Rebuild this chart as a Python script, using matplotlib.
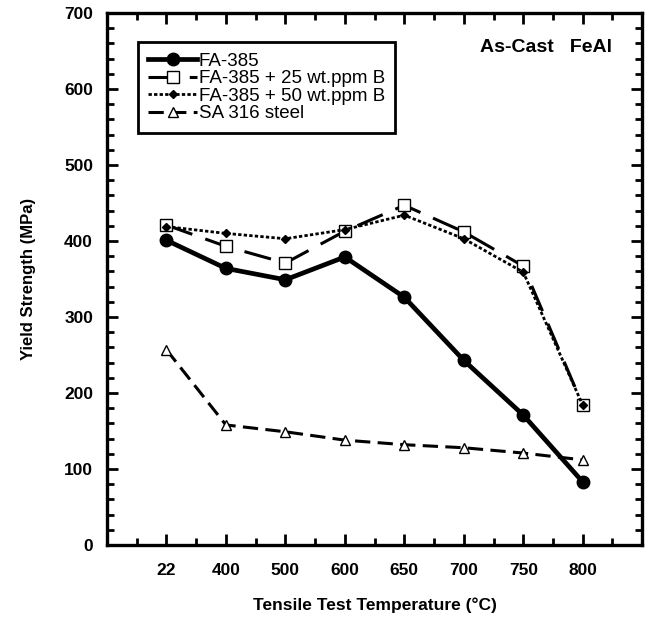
import matplotlib.pyplot as plt
from matplotlib.ticker import MultipleLocator, FixedLocator

temps = ["22", "400", "500", "600", "650", "700", "750", "800"]
fa385 = [401, 364, 349, 379, 326, 243, 171, 83]
fa385_25b = [421, 393, 371, 413, 447, 412, 367, 184]
fa385_50b = [419, 410, 403, 415, 434, 403, 359, 184]
sa316 = [257, 158, 149, 138, 132, 128, 121, 112]

plt.rcParams['font.family'] = ['Liberation Sans', 'DejaVu Sans']

fig = plt.figure(figsize=(6.52, 6.19), dpi=100)
ax = fig.add_axes([0.164, 0.1195, 0.821, 0.8595])

x = list(range(len(temps)))

ax.plot(x, fa385, color='black', lw=3.4, marker='o', ms=9,
        label='FA-385', zorder=4)
ax.plot(x, fa385_25b, color='black', lw=2.2, marker='s', ms=9,
        mfc='white', mec='black', mew=1.0, dashes=(9, 4.5),
        label='FA-385 + 25 wt.ppm B', zorder=3)
ax.plot(x, fa385_50b, color='black', lw=2.0, marker='D', ms=4.5,
        dashes=(1.2, 0.8), label='FA-385 + 50 wt.ppm B', zorder=5)
ax.plot(x, sa316, color='black', lw=2.2, marker='^', ms=7,
        mfc='white', mec='black', mew=1.0, dashes=(5, 2.4),
        label='SA 316 steel', zorder=3)

ax.set_xlim(-1, 8)
ax.set_ylim(0, 700)

ax.xaxis.set_major_locator(FixedLocator(x))
ax.xaxis.set_minor_locator(FixedLocator([i - 0.5 for i in range(len(temps) + 1)]))
ax.set_xticklabels(temps)
ax.yaxis.set_major_locator(MultipleLocator(100))
ax.yaxis.set_minor_locator(MultipleLocator(20))

for s in ax.spines.values():
    s.set_linewidth(2.4)

ax.tick_params(which='both', direction='in', top=True, right=True,
               width=2.0, labelsize=12.5, colors='black')
ax.tick_params(which='major', length=8)
ax.tick_params(which='minor', length=5)
ax.tick_params(axis='x', which='major', pad=13)
ax.tick_params(axis='y', which='major', pad=10)
for t in ax.get_xticklabels() + ax.get_yticklabels():
    t.set_fontweight('bold')

ax.set_ylabel('Yield Strength (MPa)', fontsize=12, fontweight='bold',
              labelpad=20)
ax.set_xlabel('Tensile Test Temperature (\u00b0C)', fontsize=12.5,
              fontweight='bold', labelpad=14)

ax.text(0.944, 0.935, 'As-Cast   FeAl', transform=ax.transAxes,
        ha='right', va='center', fontsize=14, fontweight='bold')

leg = ax.legend(loc='upper left', bbox_to_anchor=(0.058, 0.945),
                borderaxespad=0, fancybox=False, framealpha=1,
                edgecolor='black', fontsize=13.5, handlelength=2.6,
                handletextpad=0.1, labelspacing=0.02, borderpad=0.55)
leg.get_frame().set_linewidth(2.0)

fig.savefig('out.png', dpi=100)
